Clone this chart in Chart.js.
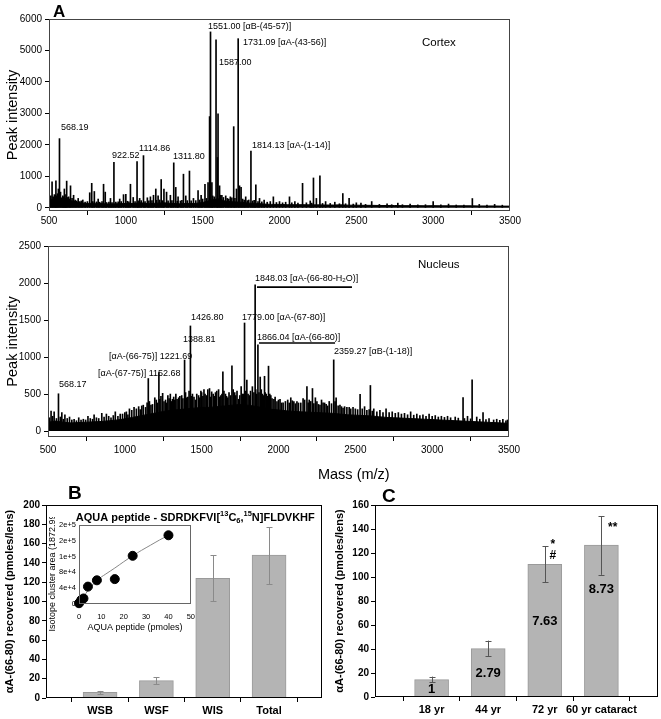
<!DOCTYPE html>
<html>
<head>
<meta charset="utf-8">
<script src="https://cdn.jsdelivr.net/npm/chart.js@4/dist/chart.umd.min.js"></script>
<style>
  body { margin: 0; background: #fff; }
  #wrap { position: relative; width: 661px; height: 719px; }
  canvas { position: absolute; }
</style>
</head>
<body>
<div id="wrap">
  <canvas id="cortex" width="661" height="236" style="left:0px;top:0px"></canvas>
  <canvas id="nucleus" width="661" height="250" style="left:0px;top:236px"></canvas>
  <canvas id="panelB" width="330" height="249" style="left:0px;top:470px"></canvas>
  <canvas id="inset" width="159" height="118" style="left:44px;top:517px"></canvas>
  <canvas id="panelC" width="331" height="249" style="left:330px;top:470px"></canvas>
</div>
<script>
// ---- data ----
const massTicks = [500, 1000, 1500, 2000, 2500, 3000, 3500];
const cortexTicks = [0, 1000, 2000, 3000, 4000, 5000, 6000];
const nucleusTicks = [0, 500, 1000, 1500, 2000, 2500];

// baseline noise level read every 50 m/z
const noiseMz = [500, 550, 600, 650, 700, 750, 800, 850, 900, 950, 1000, 1050, 1100, 1150, 1200, 1250,
  1300, 1350, 1400, 1450, 1500, 1550, 1600, 1650, 1700, 1750, 1800, 1850, 1900, 1950, 2000, 2050, 2100,
  2150, 2200, 2250, 2300, 2350, 2400, 2450, 2500, 2550, 2600, 2650, 2700, 2750, 2800, 2850, 2900, 2950,
  3000, 3050, 3100, 3150, 3200, 3250, 3300, 3350, 3400, 3450, 3500];
const cortexNoise = [240, 300, 260, 220, 160, 140, 150, 130, 120, 130, 140, 140, 160, 130, 150, 160,
  140, 130, 140, 140, 170, 240, 290, 210, 190, 180, 150, 140, 120, 110, 110, 100, 100,
  100, 95, 95, 90, 90, 95, 85, 85, 80, 80, 75, 75, 75, 70, 70, 70, 65,
  70, 65, 65, 65, 65, 65, 60, 60, 60, 55, 55];
const nucleusNoise = [120, 135, 120, 110, 115, 120, 125, 130, 140, 150, 165, 185, 205, 225, 245, 265,
  280, 290, 300, 310, 320, 320, 330, 340, 350, 360, 350, 335, 315, 295, 285, 275, 265,
  260, 255, 250, 245, 240, 230, 220, 215, 210, 205, 195, 185, 180, 175, 170, 165, 160,
  155, 150, 145, 140, 135, 130, 125, 120, 115, 110, 105];

// [m/z, peak intensity]
const cortexPeaks = [[520, 830], [535, 420], [545, 860], [555, 450], [561, 600], [568.19, 2200], [575, 500],
  [590, 380], [600, 600], [610, 420], [615, 850], [628, 350], [640, 700], [660, 400], [690, 300], [720, 250],
  [765, 480], [778, 780], [795, 520], [820, 280], [855, 750], [866, 500], [900, 300], [922.52, 1450],
  [960, 280], [985, 420], [1000, 430], [1030, 750], [1048, 330], [1073, 1470], [1090, 300], [1114.86, 1660],
  [1140, 320], [1160, 350], [1180, 400], [1195, 600], [1210, 380], [1230, 900], [1248, 600], [1265, 500],
  [1290, 400], [1311.8, 1430], [1325, 650], [1340, 350], [1375, 1070], [1390, 380], [1414, 1170], [1440, 300],
  [1470, 550], [1490, 400], [1515, 750], [1535, 800], [1545, 2900], [1551, 5590], [1560, 800], [1587, 5340],
  [1596, 1600], [1600, 2990], [1610, 700], [1625, 400], [1650, 380], [1680, 350], [1702, 2580], [1720, 600],
  [1731.09, 5375], [1740, 700], [1750, 650], [1780, 350], [1814.13, 1800], [1846, 730], [1870, 300],
  [1900, 250], [1960, 350], [2000, 200], [2065, 350], [2100, 200], [2150, 780], [2200, 220], [2221, 950],
  [2240, 300], [2263, 1015], [2300, 200], [2360, 180], [2412, 455], [2453, 300], [2500, 160], [2530, 150],
  [2600, 200], [2700, 130], [2770, 150], [2850, 120], [3000, 200], [3100, 120], [3255, 296], [3300, 110],
  [3400, 110]];
const cortexMinor = [[505, 300], [512, 380], [527, 350], [540, 400], [550, 380], [582, 320], [595, 350],
  [605, 300], [620, 330], [635, 280], [650, 300], [670, 250], [680, 220], [700, 200], [710, 220], [735, 180],
  [750, 200], [785, 200], [810, 190], [830, 180], [845, 200], [875, 170], [890, 180], [910, 170], [935, 180],
  [950, 190], [970, 200], [1010, 210], [1020, 190], [1060, 200], [1080, 220], [1100, 230], [1125, 200],
  [1150, 220], [1170, 230], [1200, 240], [1220, 250], [1240, 230], [1275, 220], [1300, 230], [1335, 210],
  [1355, 220], [1365, 240], [1400, 230], [1425, 220], [1455, 230], [1480, 250], [1500, 280], [1525, 300],
  [1565, 380], [1575, 350], [1615, 400], [1635, 330], [1660, 300], [1670, 280], [1690, 320], [1710, 300],
  [1760, 280], [1770, 250], [1790, 230], [1800, 250], [1825, 220], [1835, 240], [1860, 200], [1885, 190],
  [1920, 180], [1940, 200], [1980, 170], [2020, 160], [2040, 180], [2080, 160], [2120, 150], [2175, 160],
  [2210, 150], [2280, 140], [2330, 140], [2390, 130], [2430, 130], [2480, 120], [2560, 110], [2650, 110],
  [2730, 100], [2800, 100], [2900, 95], [2950, 100], [3050, 95], [3150, 90], [3200, 90], [3350, 85], [3450, 85]];

const nucleusPeaks = [[520, 270], [540, 260], [568.17, 504], [590, 250], [610, 220], [640, 190], [700, 180],
  [760, 200], [800, 220], [850, 240], [880, 230], [938, 260], [970, 230], [1000, 250], [1030, 300],
  [1060, 320], [1090, 330], [1120, 350], [1152.68, 710], [1170, 350], [1195, 450], [1221.69, 790],
  [1235, 470], [1246, 510], [1265, 420], [1280, 480], [1296, 500], [1310, 430], [1332, 500], [1350, 450],
  [1370, 480], [1388.81, 960], [1400, 450], [1426.8, 1420], [1440, 500], [1460, 420], [1480, 480],
  [1500, 520], [1515, 560], [1530, 480], [1551, 575], [1575, 500], [1590, 520], [1610, 560], [1625, 480],
  [1638, 800], [1655, 500], [1670, 450], [1697, 880], [1715, 520], [1740, 430], [1765, 500], [1779, 1460],
  [1794, 690], [1810, 480], [1830, 600], [1848.03, 1975], [1858, 500], [1866.04, 1165], [1881, 730],
  [1895, 500], [1909, 740], [1920, 500], [1935, 877], [1950, 480], [1970, 430], [2000, 420], [2030, 380],
  [2060, 420], [2080, 450], [2100, 400], [2130, 380], [2160, 440], [2185, 600], [2200, 420], [2221, 575],
  [2240, 450], [2260, 360], [2280, 420], [2300, 380], [2330, 400], [2359.27, 962], [2375, 450], [2400, 350],
  [2430, 330], [2460, 320], [2500, 300], [2531, 495], [2560, 330], [2598, 616], [2620, 300], [2660, 280],
  [2700, 300], [2740, 260], [2780, 250], [2820, 240], [2860, 260], [2900, 230], [2940, 220], [2980, 230],
  [3020, 210], [3060, 200], [3100, 200], [3150, 190], [3201, 454], [3230, 200], [3260, 692], [3290, 190],
  [3331, 250], [3370, 170], [3420, 160], [3460, 160], [3490, 150]];
const nucleusMinor = [[510, 180], [530, 200], [555, 170], [580, 190], [600, 160], [625, 170], [655, 150],
  [670, 160], [685, 140], [715, 150], [730, 160], [745, 150], [775, 170], [790, 160], [815, 180], [830, 170],
  [865, 190], [895, 200], [910, 180], [925, 210], [955, 200], [985, 230], [1010, 260], [1020, 220],
  [1045, 280], [1075, 300], [1100, 290], [1110, 340], [1135, 320], [1145, 380], [1160, 400], [1180, 360],
  [1205, 420], [1212, 380], [1228, 430], [1255, 400], [1272, 380], [1288, 440], [1303, 400], [1318, 460],
  [1325, 420], [1340, 430], [1358, 470], [1378, 440], [1395, 520], [1410, 460], [1418, 540], [1433, 470],
  [1450, 460], [1468, 500], [1488, 450], [1495, 540], [1508, 470], [1522, 500], [1540, 560], [1558, 460],
  [1565, 530], [1582, 470], [1598, 540], [1618, 460], [1632, 500], [1645, 540], [1662, 470], [1678, 520],
  [1688, 480], [1705, 560], [1722, 480], [1730, 540], [1748, 480], [1757, 600], [1772, 500], [1786, 540],
  [1802, 500], [1818, 540], [1840, 520], [1852, 560], [1873, 520], [1888, 560], [1902, 480], [1913, 520],
  [1928, 470], [1943, 500], [1958, 440], [1978, 460], [1990, 400], [2010, 430], [2020, 380], [2045, 400],
  [2070, 380], [2090, 410], [2110, 370], [2120, 400], [2145, 380], [2170, 420], [2193, 380], [2210, 400],
  [2230, 370], [2250, 400], [2270, 350], [2290, 380], [2310, 360], [2320, 340], [2345, 370], [2368, 400],
  [2388, 340], [2410, 330], [2420, 310], [2445, 320], [2470, 300], [2485, 320], [2515, 290], [2545, 300],
  [2575, 280], [2590, 290], [2610, 270], [2640, 260], [2680, 250], [2720, 250], [2760, 240], [2800, 230],
  [2840, 220], [2880, 215], [2920, 210], [2960, 200], [3000, 200], [3040, 190], [3080, 185], [3120, 180],
  [3170, 175], [3210, 170], [3250, 165], [3310, 160], [3350, 155], [3400, 150], [3440, 145], [3480, 140]];

// panel B
const fractions = ['WSB', 'WSF', 'WIS', 'Total'];
const fractionRecovered = [6, 18, 124, 148];
const fractionLow = [4.2, 14.5, 100.5, 118];
const fractionHigh = [7.3, 21.5, 148, 177];
const bTicks = [0, 20, 40, 60, 80, 100, 120, 140, 160, 180, 200];

// inset standard curve
const aquaPmoles = [0, 1, 2, 4, 8, 16, 24, 40];
const aquaArea = [2000, 10000, 14000, 44000, 60000, 63000, 122000, 174000];
const fitPmoles = [0, 2, 4, 8, 12, 16, 20, 24, 28, 32, 36, 40];
const fitArea = [0, 18000, 34000, 60000, 76000, 91000, 107000, 122000, 136000, 149000, 162000, 174000];
const insetXTicks = [0, 10, 20, 30, 40, 50];
const insetYTicks = [0, 40000, 80000, 120000, 160000, 200000];
const insetYLabels = ['0', '4e+4', '8e+4', '1e+5', '2e+5', '2e+5'];

// panel C
const ages = ['18 yr', '44 yr', '72 yr', '60 yr cataract'];
const ageRecovered = [14.5, 40.3, 110.5, 126.6];
const ageLow = [12.5, 34.2, 95.7, 101.8];
const ageHigh = [17, 47, 125.5, 150.8];
const foldChange = ['1', '2.79', '7.63', '8.73'];
const cTicks = [0, 20, 40, 60, 80, 100, 120, 140, 160];

// ---- helpers ----
const FONT = "'Liberation Sans', Arial, sans-serif";
Chart.defaults.font.family = FONT;
Chart.defaults.color = '#000';
Chart.defaults.animation = false;
Chart.defaults.plugins.legend.display = false;
Chart.defaults.plugins.tooltip.enabled = false;

const fixTicks = vals => s => { s.ticks = vals.map(v => ({ value: v })); };
const plain = v => String(v);

function drawRich(ctx, x, y, parts, size, weight) {
  parts.forEach(p => {
    const [t, kind] = Array.isArray(p) ? p : [p];
    const s = kind ? size * 0.68 : size;
    ctx.font = `${weight} ${s}px ${FONT}`;
    const dy = kind === 'sup' ? -size * 0.38 : kind === 'sub' ? size * 0.28 : 0;
    ctx.fillText(t, x, y + dy);
    x += ctx.measureText(t).width;
  });
}

const framePlugin = color => ({
  id: 'frame',
  afterDraw(chart) {
    const { ctx, chartArea: a } = chart;
    ctx.save();
    ctx.strokeStyle = color;
    ctx.lineWidth = 1;
    ctx.strokeRect(Math.round(a.left) + 0.5, Math.round(a.top) + 0.5,
      Math.round(a.right - a.left) - 1, Math.round(a.bottom - a.top) - 1);
    ctx.restore();
  }
});

// labels: [parts, m/z, intensity, font size]
const notesPlugin = (labels, extra) => ({
  id: 'notes',
  beforeDatasetsDraw(chart) {
    const { ctx, scales: { x, y } } = chart;
    ctx.save();
    ctx.fillStyle = '#000';
    ctx.textBaseline = 'middle';
    ctx.textAlign = 'left';
    labels.forEach(([parts, mx, v, size]) =>
      drawRich(ctx, x.getPixelForValue(mx), y.getPixelForValue(v), parts, size || 9, 'normal'));
    ctx.restore();
  },
  afterDraw(chart) {
    if (extra) extra(chart);
  }
});

function spectrum(id, o) {
  return new Chart(document.getElementById(id), {
    type: 'bar',
    data: {
      datasets: [
        {
          type: 'bar',
          data: o.peaks.concat(o.minor).map(([m, v]) => ({ x: m, y: v })),
          backgroundColor: '#000',
          barThickness: 1,
          grouped: false,
          order: 0
        },
        {
          type: 'line',
          data: noiseMz.map((m, i) => ({ x: m, y: o.noise[i] })),
          fill: 'origin',
          backgroundColor: '#000',
          borderColor: '#000',
          borderWidth: 1,
          pointRadius: 0,
          order: 1
        }
      ]
    },
    options: {
      responsive: false,
      layout: { padding: o.padding },
      scales: {
        x: {
          type: 'linear', min: 500, max: 3500, offset: false,
          afterFit: s => { s.height = o.xh; },
          afterBuildTicks: fixTicks(massTicks),
          grid: { drawOnChartArea: false, tickLength: 4, color: '#000' },
          border: { display: false },
          ticks: { font: { size: 10 }, padding: o.xpad, maxRotation: 0, callback: plain }
        },
        y: {
          min: o.yMin, max: o.yMax,
          afterFit: s => { s.width = o.yw; },
          afterBuildTicks: fixTicks(o.yTicks),
          grid: { drawOnChartArea: false, tickLength: 4, color: '#000' },
          border: { display: false },
          ticks: { font: { size: 10 }, padding: 3, callback: plain },
          title: { display: true, text: 'Peak intensity', font: { size: 14.5 }, padding: { top: 4, bottom: 0 } }
        }
      }
    },
    plugins: [framePlugin('#444'), notesPlugin(o.labels, o.extra)]
  });
}

// ---- panel A, cortex ----
spectrum('cortex', {
  peaks: cortexPeaks, minor: cortexMinor, noise: cortexNoise, yMin: -100, yMax: 6000, yTicks: cortexTicks,
  padding: { left: 0, right: 151, top: 19, bottom: 0 }, xh: 25, yw: 49, xpad: 0,
  labels: [
    [['568.19'], 578, 2540],
    [['922.52'], 910, 1650],
    [['1114.86'], 1086, 1873],
    [['1311.80'], 1307, 1620],
    [['1551.00 [\u03b1B-(45-57)]'], 1535, 5746],
    [['1731.09 [\u03b1A-(43-56)]'], 1762, 5238],
    [['1587.00'], 1606, 4604],
    [['1814.13 [\u03b1A-(1-14)]'], 1821, 1968],
    [['Cortex'], 2927, 5238, 11.5]
  ],
  extra(chart) {
    const { ctx, chartArea: a } = chart;
    ctx.save();
    ctx.font = `bold 17px ${FONT}`;
    ctx.textBaseline = 'middle';
    ctx.fillText('A', a.left + 4, a.top - 7);
    ctx.restore();
  }
});

// ---- panel A, nucleus ----
const underlines = [[1860, 2478, 1945], [1873, 2368, 1189]];
spectrum('nucleus', {
  peaks: nucleusPeaks, minor: nucleusMinor, noise: nucleusNoise, yMin: -80, yMax: 2500, yTicks: nucleusTicks,
  padding: { left: 0, right: 152, top: 10, bottom: 0 }, xh: 49, yw: 48, xpad: 3,
  labels: [
    [['568.17'], 572, 635],
    [['[\u03b1A-(67-75)] 1152.68'], 825, 784],
    [['[\u03b1A-(66-75)] 1221.69'], 897, 1013],
    [['1388.81'], 1379, 1243],
    [['1426.80'], 1431, 1540],
    [['1779.00 [\u03b1A-(67-80)]'], 1763, 1540],
    [['1848.03 [\u03b1A-(66-80-H', ['2', 'sub'], 'O)]'], 1847, 2067],
    [['1866.04 [\u03b1A-(66-80)]'], 1860, 1270],
    [['2359.27 [\u03b1B-(1-18)]'], 2361, 1081],
    [['Nucleus'], 2908, 2243, 11.5]
  ],
  extra(chart) {
    const { ctx, scales: { x, y } } = chart;
    ctx.save();
    ctx.strokeStyle = '#000';
    ctx.lineWidth = 1.6;
    underlines.forEach(([m0, m1, v]) => {
      ctx.beginPath();
      ctx.moveTo(x.getPixelForValue(m0), y.getPixelForValue(v));
      ctx.lineTo(x.getPixelForValue(m1), y.getPixelForValue(v));
      ctx.stroke();
    });
    ctx.font = `14.5px ${FONT}`;
    ctx.textAlign = 'center';
    ctx.textBaseline = 'middle';
    ctx.fillText('Mass (m/z)', x.getPixelForValue(2490), chart.chartArea.bottom + 38);
    ctx.restore();
  }
});

// ---- bar panels ----
const errorPlugin = (low, high, color, cap) => ({
  id: 'errors',
  afterDatasetsDraw(chart) {
    const { ctx, scales: { x, y } } = chart;
    ctx.save();
    ctx.strokeStyle = color;
    ctx.lineWidth = 1;
    low.forEach((lo, i) => {
      const px = Math.round(x.getPixelForValue(i + 1)) + 0.5;
      const y0 = y.getPixelForValue(lo), y1 = y.getPixelForValue(high[i]);
      ctx.beginPath();
      ctx.moveTo(px, y0); ctx.lineTo(px, y1);
      if (cap) {
        ctx.moveTo(px - cap, Math.round(y0) + 0.5); ctx.lineTo(px + cap, Math.round(y0) + 0.5);
        ctx.moveTo(px - cap, Math.round(y1) + 0.5); ctx.lineTo(px + cap, Math.round(y1) + 0.5);
      }
      ctx.stroke();
    });
    ctx.restore();
  }
});

function barPanel(id, o) {
  return new Chart(document.getElementById(id), {
    type: 'bar',
    data: {
      datasets: [{
        data: o.values.map((v, i) => ({ x: i + 1, y: v })),
        backgroundColor: '#b4b4b4',
        borderColor: '#9a9a9a',
        borderWidth: 1,
        barThickness: 34,
        grouped: false
      }]
    },
    options: {
      responsive: false,
      layout: { padding: o.padding },
      scales: {
        x: {
          type: 'linear', min: o.xMin, max: o.xMax, offset: false,
          afterFit: s => { s.height = o.xh; },
          afterBuildTicks: fixTicks([1, 2, 3, 4]),
          grid: { drawOnChartArea: false, tickLength: 4, color: '#000' },
          border: { display: false },
          ticks: { font: { size: 11, weight: 'bold' }, padding: 2, maxRotation: 0,
                   callback: v => o.labels[Math.round(v) - 1] }
        },
        y: {
          min: 0, max: o.yMax,
          afterFit: s => { s.width = o.yw; },
          afterBuildTicks: fixTicks(o.yTicks),
          grid: { drawOnChartArea: false, tickLength: 4, color: '#000' },
          border: { display: false },
          ticks: { font: { size: 10, weight: 'bold' }, padding: 2 },
          title: { display: true, text: '\u03b1A-(66-80) recovered (pmoles/lens)',
                   font: { size: 11, weight: 'bold' }, padding: { top: 3, bottom: 0 } }
        }
      }
    },
    plugins: [framePlugin('#000'), errorPlugin(o.low, o.high, o.errColor, o.cap),
      { id: 'notes', afterDraw: o.notes }]
  });
}

barPanel('panelB', {
  values: fractionRecovered, low: fractionLow, high: fractionHigh, labels: fractions,
  xMin: 0.04, xMax: 4.94, yMax: 200, yTicks: bTicks, xh: 21, yw: 46,
  padding: { left: 0, right: 8, top: 35, bottom: 0 }, errColor: '#8a8a8a', cap: 3,
  notes(chart) {
    const { ctx, chartArea: a, scales: { x, y } } = chart;
    ctx.save();
    ctx.fillStyle = '#000';
    ctx.textBaseline = 'middle';
    ctx.font = `bold 19px ${FONT}`;
    ctx.fillText('B', a.left + 22, a.top - 11);
    drawRich(ctx, x.getPixelForValue(0.57), y.getPixelForValue(186.5),
      ['AQUA peptide - SDRDKFVI[', ['13', 'sup'], 'C', ['6', 'sub'], ',', ['15', 'sup'], 'N]FLDVKHF'],
      11, 'bold');
    ctx.restore();
  }
});

const cNotes = [['1', 1, 6.7], ['2.79', 2, 20], ['7.63', 3, 63], ['8.73', 4, 90]];
const cMarks = [['*', 3.14, 127], ['#', 3.14, 117.5], ['**', 4.2, 141]];
barPanel('panelC', {
  values: ageRecovered, low: ageLow, high: ageHigh, labels: ages,
  xMin: 0, xMax: 5, yMax: 160, yTicks: cTicks, xh: 22, yw: 45,
  padding: { left: 0, right: 3, top: 35, bottom: 0 }, errColor: '#555', cap: 3,
  notes(chart) {
    const { ctx, chartArea: a, scales: { x, y } } = chart;
    ctx.save();
    ctx.fillStyle = '#000';
    ctx.textBaseline = 'middle';
    ctx.font = `bold 19px ${FONT}`;
    ctx.fillText('C', a.left + 7, a.top - 8);
    ctx.textAlign = 'center';
    ctx.font = `bold 13px ${FONT}`;
    cNotes.forEach(([t, i, v], k) => ctx.fillText(foldChange[k], x.getPixelForValue(i), y.getPixelForValue(v)));
    ctx.font = `bold 12px ${FONT}`;
    cMarks.forEach(([t, px, v]) => ctx.fillText(t, x.getPixelForValue(px), y.getPixelForValue(v)));
    ctx.restore();
  }
});

// ---- inset standard curve ----
new Chart(document.getElementById('inset'), {
  type: 'scatter',
  data: {
    datasets: [
      {
        type: 'scatter',
        data: aquaPmoles.map((p, i) => ({ x: p, y: aquaArea[i] })),
        backgroundColor: '#000',
        borderColor: '#000',
        pointRadius: 4.5,
        clip: false,
        order: 0
      },
      {
        type: 'line',
        data: fitPmoles.map((p, i) => ({ x: p, y: fitArea[i] })),
        borderColor: '#888',
        borderWidth: 1,
        pointRadius: 0,
        tension: 0.3,
        order: 1
      }
    ]
  },
  options: {
    responsive: false,
    layout: { padding: { left: 0, right: 0, top: 8, bottom: 0 } },
    scales: {
      x: {
        type: 'linear', min: 0, max: 50,
        afterFit: s => { s.height = 31; },
        afterBuildTicks: fixTicks(insetXTicks),
        grid: { display: false, drawTicks: false },
        border: { display: false },
        ticks: { font: { size: 7.5 }, padding: 8, maxRotation: 0 },
        title: { display: true, text: 'AQUA peptide (pmoles)', font: { size: 9 }, padding: { top: 0, bottom: 2 } }
      },
      y: {
        min: 0, max: 200000,
        afterFit: s => { s.width = 35; },
        afterBuildTicks: fixTicks(insetYTicks),
        grid: { display: false, drawTicks: false },
        border: { display: false },
        ticks: { font: { size: 7.5 }, padding: 3, callback: (v, i) => insetYLabels[i] },
        title: { display: true, text: 'Isotope cluster area (1872.99 Da)', font: { size: 9 }, padding: { top: 3, bottom: 0 } }
      }
    }
  },
  plugins: [framePlugin('#666')]
});
</script>
</body>
</html>
